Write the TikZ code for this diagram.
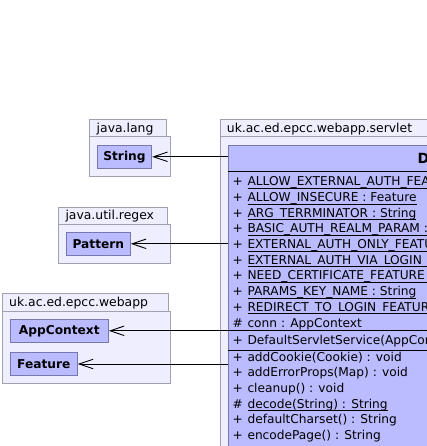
\documentclass[tikz,border=0pt]{standalone}
\usepackage{fontspec}
\setmainfont{DejaVu Sans}
\usetikzlibrary{arrows.meta}
\definecolor{pkgfill}{RGB}{238,238,255}
\definecolor{pkgdraw}{RGB}{160,160,176}
\definecolor{clsfill}{RGB}{187,187,255}
\definecolor{clsdraw}{RGB}{120,120,176}
\newcommand\umlul[1]{\setbox0\hbox{#1}\setbox2\hbox{\_}\rlap{\rule[-\dp2]{\wd0}{0.75pt}}\box0}
\tikzset{
  pkgbox/.style={draw=pkgdraw, fill=pkgfill, line width=0.9pt, inner sep=0pt},
  pkglabel/.style={anchor=base west, inner sep=0pt, font=\fontsize{12.4}{14}\selectfont},
  cbox/.style={draw=clsdraw, fill=clsfill, line width=0.9pt, inner sep=0pt, minimum height=23pt, font=\fontsize{12.2}{14}\selectfont\bfseries},
  member/.style={anchor=base west, inner sep=0pt},
  sepline/.style={line width=0.9pt, black},
  dep/.style={line width=0.9pt, -{Straight Barb[length=14pt,width=9.5pt,line width=0.9pt]}},
}
\begin{document}
\begin{tikzpicture}[x=1pt,y=-1pt,font=\fontsize{12.2}{14}\selectfont]
\useasboundingbox (0,0) rectangle (427,446);
\clip (0,0) rectangle (427,446);
\fill[white] (0,0) rectangle (427,446);

% java.lang package
\node[pkgbox, anchor=north west, minimum width=77pt, minimum height=16.7pt] (jltab) at (89.3,119.3) {};
\node[pkgbox, anchor=north west, minimum width=81pt, minimum height=40.3pt] (jlbody) at (89.3,136) {};
\node[pkglabel] (jllab) at (96.5,132.3) {java.lang};
\node[cbox, minimum width=54.4pt] (string) at (124.5,156.8) {String};

% java.util.regex package
\node[pkgbox, anchor=north west, minimum width=109pt, minimum height=17.6pt] (jrtab) at (58.3,206.7) {};
\node[pkgbox, anchor=north west, minimum width=112pt, minimum height=39pt] (jrbody) at (58.3,224.3) {};
\node[pkglabel] (jrlab) at (65.3,219.7) {java.util.regex};
\node[cbox, minimum width=64pt] (pattern) at (98.3,243.8) {Pattern};

% uk.ac.ed.epcc.webapp package
\node[pkgbox, anchor=north west, minimum width=166pt, minimum height=18pt] (watab) at (2.3,293.3) {};
\node[pkgbox, anchor=north west, minimum width=168pt, minimum height=71.7pt] (wabody) at (2.3,311.3) {};
\node[pkglabel] (walab) at (9,306.5) {uk.ac.ed.epcc.webapp};
\node[cbox, minimum width=98pt] (appctx) at (59.3,330.8) {AppContext};
\node[cbox, minimum width=67pt] (feature) at (43.8,364) {Feature};

% uk.ac.ed.epcc.webapp.servlet package
\node[pkgbox, anchor=north west, minimum width=300pt, minimum height=17pt] (svtab) at (220.3,119.3) {};
\node[pkgbox, anchor=north west, minimum width=300pt, minimum height=400pt] (svbody) at (220.3,136.3) {};
\node[pkglabel] (svlab) at (226.7,132.3) {uk.ac.ed.epcc.webapp.servlet};

% class DefaultServletService
\node[draw=clsdraw, fill=clsfill, line width=0.9pt, inner sep=0pt, anchor=north west, minimum width=300pt, minimum height=400pt] (cls) at (228.3,145.3) {};
\node[member, font=\fontsize{14}{16}\selectfont\bfseries] (clsname) at (417.5,163.5) {DefaultServletService};
\draw[sepline] (228.3,171) -- (427,171);
\draw[sepline] (228.3,330.5) -- (427,330.5);
\draw[sepline] (228.3,350) -- (427,350);

% attributes
\foreach \v/\t [count=\i from 0] in {
  +/\umlul{ALLOW\_EXTERNAL\_AUTH\_FEATURE : Feature},
  +/\umlul{ALLOW\_INSECURE : Feature},
  +/\umlul{ARG\_TERRMINATOR : String},
  +/\umlul{BASIC\_AUTH\_REALM\_PARAM : String},
  +/\umlul{EXTERNAL\_AUTH\_ONLY\_FEATURE : Feature},
  +/\umlul{EXTERNAL\_AUTH\_VIA\_LOGIN\_FEATURE : Feature},
  +/\umlul{NEED\_CERTIFICATE\_FEATURE : Feature},
  +/\umlul{PARAMS\_KEY\_NAME : String},
  +/\umlul{REDIRECT\_TO\_LOGIN\_FEATURE : Feature},
  \#/conn : AppContext}
{
  \node[member] (av\i) at (232.3,185.7+15.7*\i) {\v};
  \node[member] (at\i) at (247.3,185.7+15.7*\i) {\t};
}

% constructor
\node[member] (cv0) at (232.3,344.5) {+};
\node[member] (ct0) at (247.3,344.5) {DefaultServletService(AppContext)};

% methods
\foreach \v/\t [count=\i from 0] in {
  +/addCookie(Cookie) : void,
  +/addErrorProps(Map) : void,
  +/cleanup() : void,
  \#/\umlul{decode(String) : String},
  +/defaultCharset() : String,
  +/encodePage() : String}
{
  \node[member] (mv\i) at (232.3,361+15.7*\i) {\v};
  \node[member] (mt\i) at (247.3,361+15.7*\i) {\t};
}

% dependencies
\draw[dep] (string.east -| cls.west) -- (string.east);
\draw[dep] (pattern.east -| cls.west) -- (pattern.east);
\draw[dep] (appctx.east -| cls.west) -- (appctx.east);
\draw[dep] (feature.east -| cls.west) -- (feature.east);
\end{tikzpicture}
\end{document}
